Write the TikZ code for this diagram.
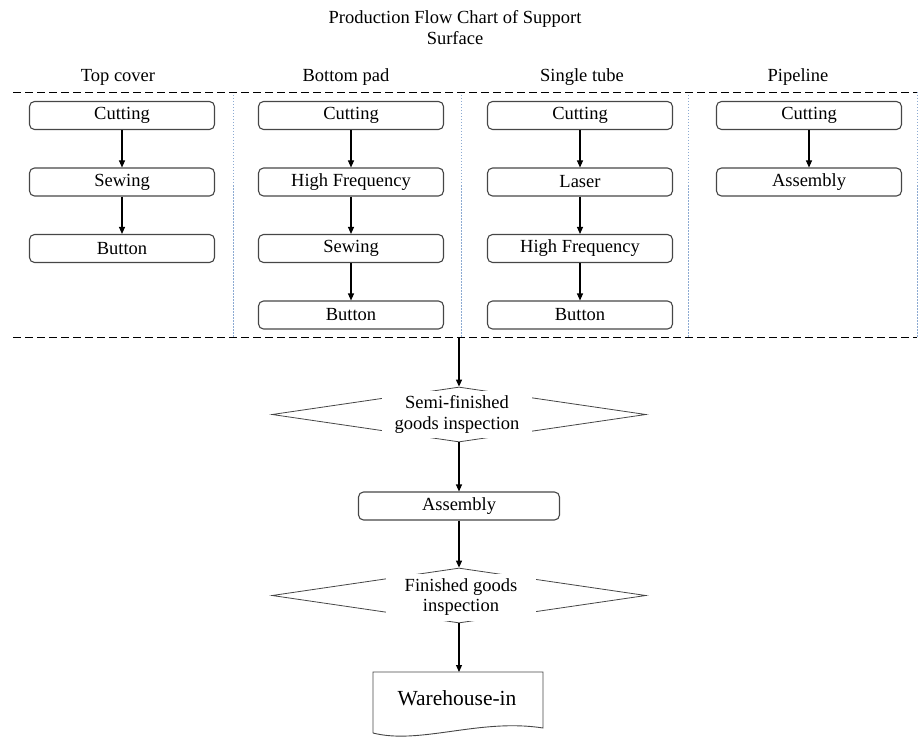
\documentclass[tikz,border=0pt]{standalone}
\usepackage{fontspec}
\setmainfont{Liberation Serif}
\usetikzlibrary{arrows.meta,shapes.geometric}
\definecolor{boxline}{RGB}{70,70,70}
\definecolor{gridblue}{RGB}{140,170,210}
\tikzset{
  procbox/.style={draw=boxline, line width=1.1pt, rounded corners=5pt, rectangle,
    minimum width=185pt, minimum height=28pt, inner sep=0pt,
    font=\fontsize{18.5}{20.5}\selectfont},
  heading/.style={font=\fontsize{18.5}{20.5}\selectfont, inner sep=0pt},
  flowarrow/.style={draw=black, line width=1.1pt, -{Triangle[length=7pt,width=6pt]}},
  checkshape/.style={draw=boxline, line width=0.8pt, shape=diamond, aspect=6.8,
    minimum width=374pt, minimum height=55pt, inner sep=0pt},
  checktext/.style={fill=white, inner sep=0pt, minimum width=150pt, minimum height=47pt,
    align=center, font=\fontsize{18.5}{20.5}\selectfont},
  framedash/.style={draw=black, line width=0.9pt, dash pattern=on 8pt off 4pt},
  lanesep/.style={draw=gridblue, line width=0.9pt, dash pattern=on 1.5pt off 1.5pt},
}
\begin{document}
\begin{tikzpicture}[x=1pt,y=-1pt]
\useasboundingbox (0,0) rectangle (923,738);

% title
\node[heading, align=center] (title) at (455,27.5)
  {Production Flow Chart of Support\\[0pt]Surface};

% lane headings
\node[heading] (h1) at (118,77) {Top cover};
\node[heading] (h2) at (346,77) {Bottom pad};
\node[heading] (h3) at (582,77) {Single tube};
\node[heading] (h4) at (798,77) {Pipeline};

% lane frame
\draw[lanesep] (233,92) -- (233,337);
\draw[lanesep] (461,92) -- (461,337);
\draw[lanesep] (688,92) -- (688,337);
\draw[lanesep] (917,92) -- (917,337);
\draw[framedash] (13,92) -- (917,92);
\draw[framedash] (13,337) -- (917,337);
\coordinate (framebot) at (459,337);

% Top cover
\node[procbox] (a1) at (122,115.5) {Cutting};
\node[procbox] (a2) at (122,182) {Sewing};
\node[procbox] (a3) at (122,248.5) {Button};
\draw[flowarrow] (a1) -- (a2);
\draw[flowarrow] (a2) -- (a3);

% Bottom pad
\node[procbox] (b1) at (351,115.5) {Cutting};
\node[procbox] (b2) at (351,182) {High Frequency};
\node[procbox] (b3) at (351,248.5) {Sewing};
\node[procbox] (b4) at (351,315) {Button};
\draw[flowarrow] (b1) -- (b2);
\draw[flowarrow] (b2) -- (b3);
\draw[flowarrow] (b3) -- (b4);

% Single tube
\node[procbox] (c1) at (580,115.5) {Cutting};
\node[procbox] (c2) at (580,182) {Laser};
\node[procbox] (c3) at (580,248.5) {High Frequency};
\node[procbox] (c4) at (580,315) {Button};
\draw[flowarrow] (c1) -- (c2);
\draw[flowarrow] (c2) -- (c3);
\draw[flowarrow] (c3) -- (c4);

% Pipeline
\node[procbox] (p1) at (809,115.5) {Cutting};
\node[procbox] (p2) at (809,182) {Assembly};
\draw[flowarrow] (p1) -- (p2);

% semi-finished inspection
\node[checkshape] (d1) at (459,414.5) {};
\node[checktext] (d1t) at (457,414.5) {Semi-finished\\goods inspection};
\draw[flowarrow] (framebot) -- (d1.north);

% final assembly
\node[procbox, minimum width=201pt] (asm) at (459,506) {Assembly};
\draw[flowarrow] (d1.south) -- (asm.north);

% finished inspection
\node[checkshape] (d2) at (459,595.5) {};
\node[checktext] (d2t) at (461,597) {Finished goods\\inspection};
\draw[flowarrow] (asm.south) -- (d2.north);

% warehouse document
\node[inner sep=0pt, font=\fontsize{21.5}{24}\selectfont] (wh) at (457,698) {Warehouse-in};
\coordinate (whtop) at (459,672);
\draw[draw=boxline, line width=0.9pt]
  (373,733) -- (373,672) -- (543,672) -- (543,728)
  .. controls (480,718) and (420,745) .. (373,733);
\draw[flowarrow] (d2.south) -- (whtop);
\end{tikzpicture}
\end{document}
